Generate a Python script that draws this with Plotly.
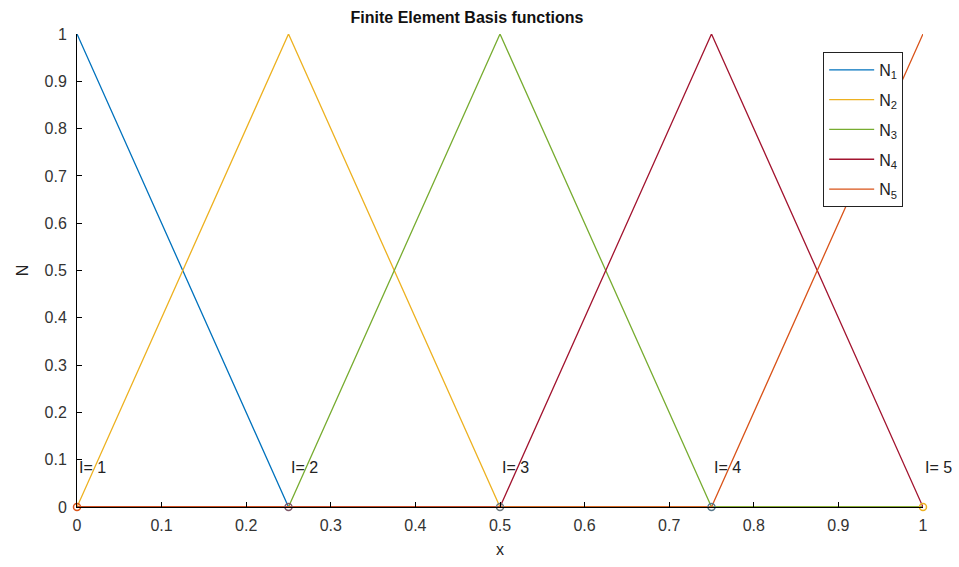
import plotly.graph_objects as go

nodes = [0, 0.25, 0.5, 0.75, 1]
basis_names = ["N<sub>1</sub>", "N<sub>2</sub>", "N<sub>3</sub>", "N<sub>4</sub>", "N<sub>5</sub>"]
basis_colors = ["#0072BD", "#EDB120", "#77AC30", "#A2142F", "#D95319"]
# values of each basis function at the nodes (piecewise linear hat functions)
N1 = [1, 0, 0, 0, 0]
N2 = [0, 1, 0, 0, 0]
N3 = [0, 0, 1, 0, 0]
N4 = [0, 0, 0, 1, 0]
N5 = [0, 0, 0, 0, 1]
basis_values = [N1, N2, N3, N4, N5]
node_labels = ["I= 1", "I= 2", "I= 3", "I= 4", "I= 5"]
label_y = 0.1
node_marker_colors = ["#D95319", "#7E5A6A", "#6F7A80", "#5A7A8C", "#EDB120"]

x_ticks = [0, 0.1, 0.2, 0.3, 0.4, 0.5, 0.6, 0.7, 0.8, 0.9, 1]
y_ticks = [0, 0.1, 0.2, 0.3, 0.4, 0.5, 0.6, 0.7, 0.8, 0.9, 1]
x_ticktext = ["0", "0.1", "0.2", "0.3", "0.4", "0.5", "0.6", "0.7", "0.8", "0.9", "1"]
y_ticktext = ["0", "0.1", "0.2", "0.3", "0.4", "0.5", "0.6", "0.7", "0.8", "0.9", "1"]

fig = go.Figure()
for i, (name, col, vals) in enumerate(zip(basis_names, basis_colors, basis_values)):
    fig.add_trace(go.Scatter(x=nodes, y=vals, mode="lines", name=name, legendgroup=f"g{i}",
                             line=dict(color=col, width=1.3), cliponaxis=False))

fig.add_trace(go.Scatter(x=nodes, y=[0]*len(nodes), mode="markers", showlegend=False,
                         marker=dict(symbol="circle-open", size=7, color=node_marker_colors,
                                     line=dict(width=1.5, color=node_marker_colors)),
                         cliponaxis=False))

for xn, lab in zip(nodes, node_labels):
    fig.add_annotation(x=xn, y=label_y, text=lab, showarrow=False, xanchor="left",
                       yanchor="middle", yshift=-8, font=dict(size=16, color="#222222"))

font_family = "Liberation Sans, Arial, sans-serif"
fig.update_layout(
    width=959, height=567,
    margin=dict(l=77, r=36, t=34, b=57),
    plot_bgcolor="white", paper_bgcolor="white",
    font=dict(family=font_family, size=16, color="#333333"),
    title=dict(text="<b>Finite Element Basis functions</b>", x=0.461, xref="paper",
               xanchor="center", y=0.97, yanchor="middle",
               font=dict(size=16, color="#111111")),
    xaxis=dict(range=[0, 1], tickvals=x_ticks, ticktext=x_ticktext, ticks="inside",
               ticklen=5, tickcolor="black", showline=True, linecolor="black", linewidth=1,
               showgrid=False, zeroline=False, ticklabelstandoff=4,
               title=dict(text="x", standoff=10, font=dict(size=16, color="#222222"))),
    yaxis=dict(range=[0, 1], tickvals=y_ticks, ticktext=y_ticktext, ticks="inside",
               ticklen=5, tickcolor="black", showline=True, linecolor="black", linewidth=1,
               showgrid=False, zeroline=False, ticklabelstandoff=6,
               title=dict(text="N", standoff=11, font=dict(size=16, color="#222222"))),
    legend=dict(x=0.882, y=0.962, xanchor="left", yanchor="top",
                bgcolor="white", bordercolor="#222222", borderwidth=1,
                font=dict(size=16, color="#222222"), itemwidth=45, tracegroupgap=6),
)

fig.write_html("out.html")
